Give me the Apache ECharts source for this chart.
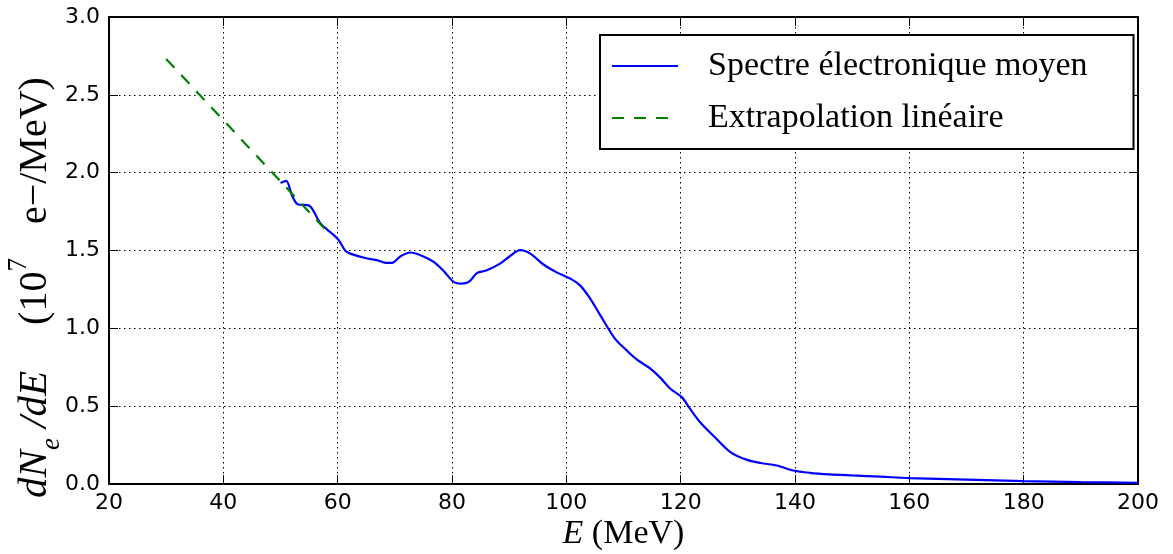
<!DOCTYPE html>
<html>
<head>
<meta charset="utf-8">
<script src="https://cdn.jsdelivr.net/npm/echarts@6/dist/echarts.min.js"></script>
<style>html,body{margin:0;padding:0;background:#fff}#c{width:1173px;height:554px}</style>
</head>
<body>
<div id="c"></div>
<script>
// ---- data ----
const specE = [50, 51, 52, 53, 55, 57, 59, 60.2, 61.3, 62.2, 65, 67, 68.5, 69.5, 71, 72.7, 74.5, 76.8, 78.5, 80.3, 81.7, 83, 84.4, 86.1, 88.4, 90, 91.9, 93.7, 96, 98.4, 101, 102.4, 104, 106, 108.5, 110.5, 112.3, 114.7, 116.5, 118.2, 120.2, 121.5, 123.4, 126, 128.7, 131.6, 134, 136.8, 139.7, 142.6, 146, 150, 155, 160, 170, 180, 190, 200];
const specV = [1.934, 1.947, 1.855, 1.797, 1.789, 1.673, 1.609, 1.566, 1.50, 1.48, 1.45, 1.437, 1.42, 1.42, 1.463, 1.487, 1.47, 1.427, 1.37, 1.298, 1.287, 1.30, 1.356, 1.373, 1.416, 1.46, 1.502, 1.48, 1.41, 1.358, 1.313, 1.276, 1.20, 1.08, 0.934, 0.86, 0.80, 0.741, 0.68, 0.612, 0.558, 0.49, 0.397, 0.30, 0.205, 0.155, 0.135, 0.119, 0.087, 0.072, 0.062, 0.055, 0.047, 0.038, 0.028, 0.018, 0.012, 0.008];
const extE = [30, 58.5];
const extV = [2.73, 1.61];
const seriesNames = ['Spectre électronique moyen', 'Extrapolation linéaire'];
const xTicks = {min: 20, max: 200, step: 20};
const yTicks = {min: 0, max: 3, step: 0.5};

const chart = echarts.init(document.getElementById('c'));
const serif = 'Liberation Serif';
const sans = 'DejaVu Sans';
const tickCommon = {show: true, inside: true, length: 9, lineStyle: {color: '#000', width: 1}};
const lineCommon = {show: true, onZero: false, lineStyle: {color: '#000', width: 2}};

chart.setOption({
  animation: false,
  backgroundColor: '#fff',
  grid: {left: 109, right: 35, top: 17, bottom: 70, containLabel: false, outerBoundsMode: 'none'},
  xAxis: [{
    type: 'value', min: xTicks.min, max: xTicks.max, interval: xTicks.step,
    position: 'bottom',
    axisLine: lineCommon, axisTick: tickCommon,
    axisLabel: {color: '#000', fontFamily: sans, fontSize: 22, margin: 8},
    splitLine: {show: true, lineStyle: {color: '#000', type: [1.5, 3.5], width: 1}},
    name: '{i|E} (MeV)', nameLocation: 'middle', nameGap: 33, nameMoveOverlap: false,
    nameTextStyle: {color: '#000', fontFamily: serif, fontSize: 34,
      rich: {i: {fontFamily: serif, fontStyle: 'italic', fontSize: 34, color: '#000'}}}
  }, {
    type: 'value', min: xTicks.min, max: xTicks.max, interval: xTicks.step,
    position: 'top',
    axisLine: lineCommon, axisTick: tickCommon,
    axisLabel: {show: false}, splitLine: {show: false}
  }],
  yAxis: [{
    type: 'value', min: yTicks.min, max: yTicks.max, interval: yTicks.step,
    position: 'left',
    axisLine: lineCommon, axisTick: tickCommon,
    axisLabel: {color: '#000', fontFamily: sans, fontSize: 22, margin: 9,
      formatter: v => v.toFixed(1)},
    splitLine: {show: true, lineStyle: {color: '#000', type: [1.5, 3.5], width: 1}},
    name: '{i|dN}{sub|e}{i| /dE}{g1|}(10{sup|7}{g2|}e−/MeV)',
    nameLocation: 'middle', nameGap: 52, nameRotate: 90, nameMoveOverlap: false,
    nameTextStyle: {color: '#000', fontFamily: serif, fontSize: 40, lineHeight: 44,
      padding: [0, 74, 0, 0],
      rich: {
        i: {fontFamily: serif, fontStyle: 'italic', fontSize: 41, color: '#000', lineHeight: 44},
        sub: {fontFamily: serif, fontStyle: 'italic', fontSize: 27, color: '#000', verticalAlign: 'bottom', lineHeight: 44, padding: [0, 0, -8, 0]},
        sup: {fontFamily: serif, fontSize: 27, color: '#000', verticalAlign: 'top', lineHeight: 44, padding: [-8, 0, 0, 0]},
        g1: {width: 46, lineHeight: 44},
        g2: {width: 34, lineHeight: 44}
      }}
  }, {
    type: 'value', min: yTicks.min, max: yTicks.max, interval: yTicks.step,
    position: 'right',
    axisLine: lineCommon, axisTick: tickCommon,
    axisLabel: {show: false}, splitLine: {show: false}
  }],
  legend: {
    type: 'plain', orient: 'vertical', left: 600, top: 35,
    backgroundColor: '#fff', borderColor: '#000', borderWidth: 2, borderRadius: 0,
    padding: [14, 46, 14, 11],
    itemWidth: 66, itemHeight: 20, itemGap: 18,
    itemStyle: {opacity: 0},
    formatter: name => '{t|' + name + '}',
    textStyle: {color: '#000', fontFamily: serif, fontSize: 34,
      rich: {t: {fontFamily: serif, fontSize: 34, color: '#000', lineHeight: 34, padding: [0, 0, 0, 25]}}},
    data: seriesNames
  },
  series: [{
    name: seriesNames[0], type: 'line', xAxisIndex: 0, yAxisIndex: 0,
    data: specE.map((e, i) => [e, specV[i]]),
    showSymbol: false, symbol: 'none', smooth: 0.3,
    lineStyle: {color: '#0000ff', width: 2.2}, itemStyle: {color: '#0000ff'}
  }, {
    name: seriesNames[1], type: 'line', xAxisIndex: 0, yAxisIndex: 0,
    data: extE.map((e, i) => [e, extV[i]]),
    showSymbol: false, symbol: 'none',
    lineStyle: {color: '#008000', width: 2.2, type: [12, 10]}, itemStyle: {color: '#008000'}
  }]
});
</script>
</body>
</html>
